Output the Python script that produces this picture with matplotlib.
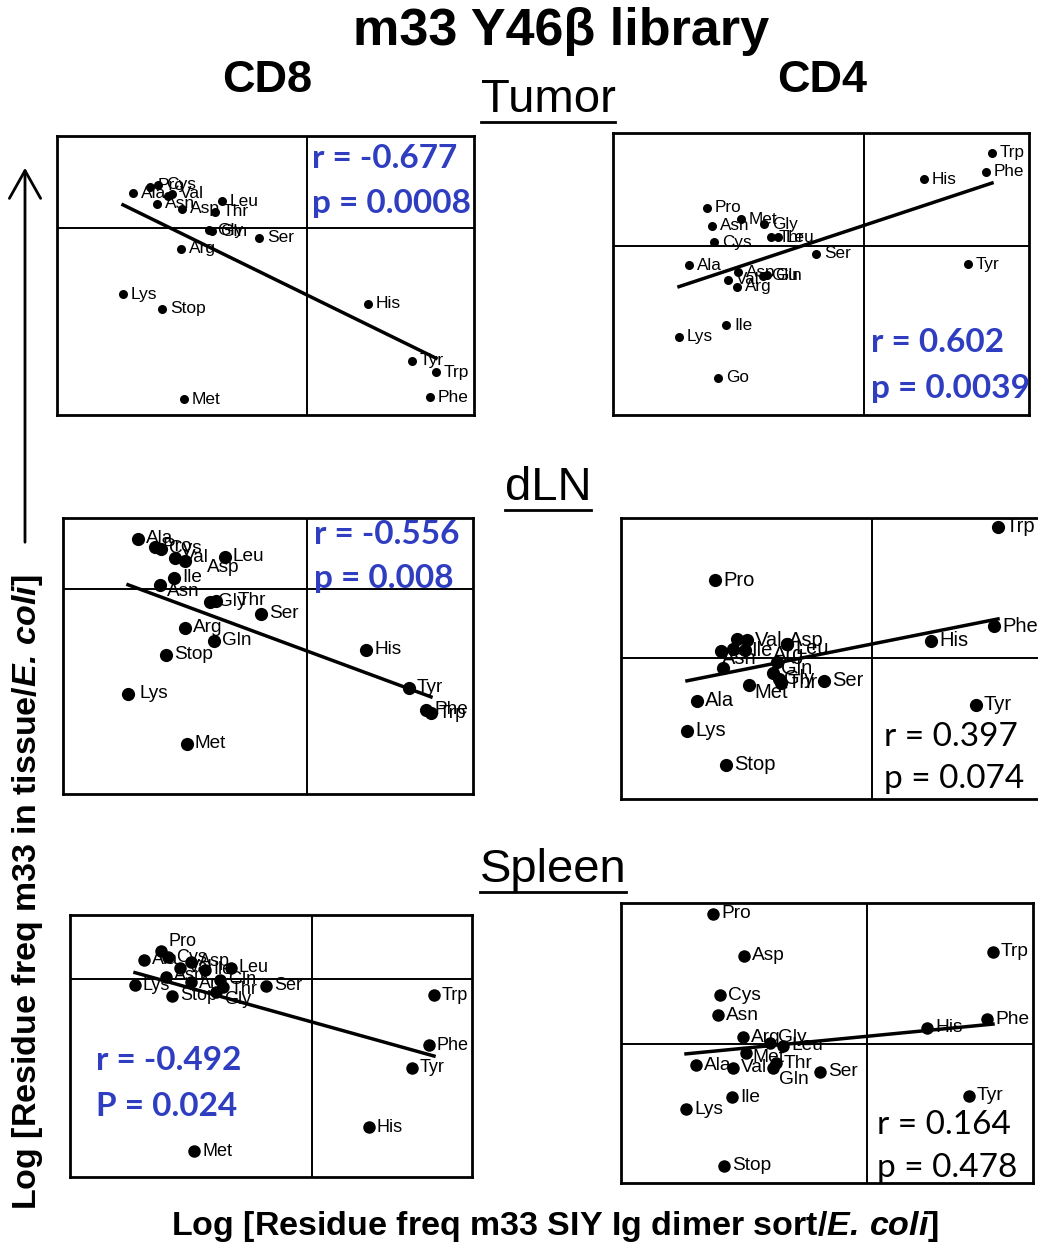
import matplotlib
matplotlib.use("Agg")
import matplotlib.pyplot as plt
import numpy as np

plt.rcParams['font.family'] = ['Liberation Sans', 'DejaVu Sans']
plt.rcParams['mathtext.fontset'] = 'custom'
plt.rcParams['mathtext.bf'] = 'Liberation Sans:bold'
plt.rcParams['mathtext.it'] = 'Liberation Sans:italic'
try:
    plt.rcParams['mathtext.bfit'] = 'Liberation Sans:bold:italic'
except KeyError:
    pass

W, H = 1038, 1247
BLUE = '#2f3ec0'

# ---- data (log ratios) ----
# Tumor, CD8
p1_labels = ['Ala', 'Pro', 'Cys', 'Ile', 'Val', 'Asn', 'Asp', 'Leu', 'Thr', 'Gly', 'Gln',
             'Ser', 'Arg', 'Lys', 'Stop', 'Met', 'His', 'Tyr', 'Trp', 'Phe']
p1_x = [-1.74, -1.57, -1.49, -1.39, -1.35, -1.50, -1.25, -0.85, -0.92, -0.98, -0.95,
        -0.48, -1.26, -1.84, -1.45, -1.23, 0.61, 1.05, 1.29, 1.23]
p1_y = [0.35, 0.41, 0.43, 0.32, 0.34, 0.24, 0.19, 0.27, 0.16, -0.02, -0.03,
        -0.10, -0.21, -0.66, -0.81, -1.71, -0.76, -1.33, -1.44, -1.69]
p1_fit = (-0.490, -0.67)
p1_stats = ['r = -0.677', 'p = 0.0008']

# Tumor, CD4
p2_labels = ['Trp', 'Phe', 'His', 'Pro', 'Met', 'Gly', 'Asn', 'Thr', 'Leu', 'Cys', 'Ser',
             'Ala', 'Asp', 'Val', 'Glu', 'Gln', 'Arg', 'Tyr', 'Ile', 'Lys', 'Go']
p2_x = [1.28, 1.22, 0.60, -1.57, -1.23, -1.00, -1.52, -0.93, -0.86, -1.50, -0.48,
        -1.75, -1.26, -1.36, -1.01, -0.97, -1.27, 1.04, -1.38, -1.85, -1.46]
p2_y = [0.93, 0.74, 0.67, 0.38, 0.27, 0.22, 0.20, 0.09, 0.09, 0.04, -0.08,
        -0.19, -0.26, -0.34, -0.30, -0.29, -0.41, -0.18, -0.79, -0.91, -1.32]
p2_fit = (0.331, 0.206)
p2_stats = ['r = 0.602', 'p = 0.0039']

# dLN, CD8
p3_labels = ['Ala', 'Pro', 'Cys', 'Val', 'Asp', 'Leu', 'Ile', 'Asn', 'Gly', 'Thr', 'Ser',
             'Arg', 'Gln', 'Stop', 'His', 'Lys', 'Tyr', 'Phe', 'Trp', 'Met']
p3_x = [-1.69, -1.52, -1.46, -1.32, -1.22, -0.82, -1.33, -1.47, -0.97, -0.91, -0.46,
        -1.22, -0.93, -1.41, 0.59, -1.79, 1.02, 1.19, 1.24, -1.20]
p3_y = [0.50, 0.42, 0.40, 0.31, 0.28, 0.32, 0.11, 0.04, -0.13, -0.12, -0.25,
        -0.39, -0.52, -0.66, -0.61, -1.05, -0.99, -1.21, -1.24, -1.55]
p3_fit = (-0.370, -0.62)
p3_stats = ['r = -0.556', 'p = 0.008']

# dLN, CD4
p4_labels = ['Trp', 'Pro', 'Phe', 'His', 'Cys', 'Val', 'Asp', 'Leu', 'Glu', 'Ile', 'Asn',
             'Glx', 'Arg', 'Gln', 'Gly', 'Thr', 'Met', 'Ser', 'Ala', 'Lys', 'Stop', 'Tyr']
p4_x = [1.26, -1.57, 1.22, 0.59, -1.35, -1.25, -0.85, -0.85, -1.39, -1.27, -1.51,
        -1.49, -0.95, -0.99, -0.93, -0.91, -1.23, -0.48, -1.75, -1.85, -1.46, 1.04]
p4_y = [1.31, 0.78, 0.32, 0.17, 0.19, 0.18, 0.14, 0.14, 0.09, 0.08, 0.07,
        -0.10, -0.04, -0.15, -0.21, -0.25, -0.27, -0.23, -0.43, -0.73, -1.07, -0.47]
p4_fit = (0.199, 0.14)
p4_stats = ['r = 0.397', 'p = 0.074']

# Spleen, CD8
p5_labels = ['Pro', 'Cys', 'Ala', 'Asp', 'Val', 'Ile', 'Leu', 'Gln', 'Thr', 'Gly', 'Asn',
             'Arg', 'Lys', 'Stop', 'Ser', 'Trp', 'Phe', 'Tyr', 'His', 'Met']
p5_x = [-1.51, -1.44, -1.68, -1.21, -1.32, -1.07, -0.81, -0.92, -0.89, -0.96, -1.46,
        -1.21, -1.77, -1.40, -0.46, 1.22, 1.17, 1.00, 0.57, -1.18]
p5_y = [0.28, 0.22, 0.19, 0.17, 0.11, 0.09, 0.11, -0.01, -0.08, -0.13, 0.02,
        -0.03, -0.06, -0.17, -0.07, -0.16, -0.66, -0.89, -1.48, -1.72]
p5_fit = (-0.279, -0.43)
p5_stats = ['r = -0.492', 'P = 0.024']

# Spleen, CD4
p6_labels = ['Pro', 'Trp', 'Asp', 'Cys', 'Asn', 'Phe', 'His', 'Arg', 'Gly', 'Leu', 'Met',
             'Thr', 'Gln', 'Val', 'Ser', 'Ala', 'Ile', 'Lys', 'Tyr', 'Stop']
p6_x = [-1.54, 1.26, -1.23, -1.47, -1.49, 1.20, 0.60, -1.24, -0.97, -0.84, -1.21,
        -0.91, -0.94, -1.34, -0.47, -1.71, -1.35, -1.81, 1.02, -1.43]
p6_y = [1.30, 0.92, 0.88, 0.49, 0.29, 0.25, 0.16, 0.07, 0.01, -0.02, -0.09,
        -0.19, -0.24, -0.24, -0.28, -0.21, -0.53, -0.65, -0.52, -1.22]
p6_fit = (0.097, 0.077)
p6_stats = ['r = 0.164', 'p = 0.478']

# ---- layout (pixel boxes: left, top, right, bottom; crosshair cx, cy) ----
panels = [
    dict(lab=p1_labels, x=p1_x, y=p1_y, fit=p1_fit, stats=p1_stats,
         box=(57, 136, 474, 415), c=(307, 228), ms=6.5, fs=12.5,
         txt=(312, 159, 204), bold=True,
         nudge={'Ile': None, 'Gln': (8, 0), 'Pro': (8, 2)}),
    dict(lab=p2_labels, x=p2_x, y=p2_y, fit=p2_fit, stats=p2_stats,
         box=(613, 133, 1029, 415), c=(864, 246), ms=6.5, fs=12.3,
         txt=(871, 343, 389), bold=True,
         nudge={'Glu': (8, 0)}),
    dict(lab=p3_labels, x=p3_x, y=p3_y, fit=p3_fit, stats=p3_stats,
         box=(63, 518, 473, 794), c=(307, 589), ms=9.5, fs=13.7,
         txt=(314, 535, 579), bold=True,
         nudge={'Asp': (22, -7), 'Thr': (22, 0), 'Asn': (7, -7), 'Lys': (12, 0)}),
    dict(lab=p4_labels, x=p4_x, y=p4_y, fit=p4_fit, stats=p4_stats,
         box=(621, 518, 1045, 799), c=(872, 658), ms=9.5, fs=14.5,
         txt=(884, 737, 779), bold=False,
         nudge={'Cys': None, 'Glu': None, 'Glx': None, 'Asp': (2, 4), 'Leu': (8, -4),
                'Asn': (1, -8), 'Ile': (6, -1), 'Arg': (-4, 7), 'Gln': (8, 4),
                'Gly': (5, 1), 'Thr': (6, 0), 'Met': (5, -8)}),
    dict(lab=p5_labels, x=p5_x, y=p5_y, fit=p5_fit, stats=p5_stats,
         box=(70, 915, 472, 1177), c=(312, 979), ms=9, fs=13,
         txt=(96, 1061, 1106), bold=True,
         nudge={'Pro': (8, 10), 'Ile': (8, 0), 'Asn': (8, 2), 'Gly': (8, -8),
                'Thr': (8, -2), 'Arg': (8, -2)}),
    dict(lab=p6_labels, x=p6_x, y=p6_y, fit=p6_fit, stats=p6_stats,
         box=(621, 903, 1033, 1183), c=(867, 1044), ms=9, fs=13.8,
         txt=(877, 1125, 1168), bold=False,
         nudge={'Gly': (8, 5), 'Gln': (6, -12), 'Met': (6, -4)}),
]

fig = plt.figure(figsize=(W / 100, H / 100), dpi=100)

for p in panels:
    l, t, r, b = p['box']
    cx, cy = p['c']
    ax = fig.add_axes([l / W, 1 - b / H, (r - l) / W, (b - t) / H])
    ax.set_xlim((l - cx) / 100, (r - cx) / 100)
    ax.set_ylim((cy - b) / 100, (cy - t) / 100)
    ax.set_xticks([])
    ax.set_yticks([])
    for s in ax.spines.values():
        s.set_linewidth(2)
    ax.axhline(0, color='black', lw=1.4, zorder=1)
    ax.axvline(0, color='black', lw=1.4, zorder=1)

    xs = np.array(p['x'])
    ys = np.array(p['y'])
    ax.scatter(xs, ys, s=p['ms'] ** 2, color='black', zorder=3, linewidths=0)
    slope, icpt = p['fit']
    xx = np.array([xs.min(), xs.max()])
    ax.plot(xx, slope * xx + icpt, color='black', lw=2.5, zorder=2)

    for name, xv, yv in zip(p['lab'], xs, ys):
        off = p['nudge'].get(name, (8, 0))
        if off is None:
            continue
        ax.annotate(name, (xv, yv), xytext=off, textcoords='offset pixels',
                    ha='left', va='center', fontsize=p['fs'], zorder=4)

    tx, ty1, ty2 = p['txt']
    for s_txt, ty in zip(p['stats'], (ty1, ty2)):
        fig.text(tx / W, 1 - ty / H, s_txt, family='Lato',
                 weight='bold' if p['bold'] else 'normal',
                 color=BLUE if p['bold'] else 'black',
                 fontsize=24, ha='left', va='center')

# ---- titles ----
fig.text(561 / W, 1 - 31 / H, 'm33 Y46β library', fontsize=37.5, weight='bold',
         ha='center', va='center')
fig.text(267 / W, 1 - 80 / H, 'CD8', fontsize=32.5, weight='bold', ha='center', va='center')
fig.text(822 / W, 1 - 80 / H, 'CD4', fontsize=32.5, weight='bold', ha='center', va='center')
for name, xc, yc in [('Tumor', 548, 100), ('dLN', 548, 488), ('Spleen', 553, 870)]:
    txt = fig.text(xc / W, 1 - yc / H, name, fontsize=34, ha='center', va='center')
    fig.canvas.draw()
    bb = txt.get_window_extent()
    fig.add_artist(plt.Line2D([bb.x0 / W, bb.x1 / W], [(H - yc - 22) / H] * 2,
                              color='black', lw=2))

fig.text(555 / W, 1 - 1227 / H,
         'Log [Residue freq m33 SIY Ig dimer sort/$\\mathbfit{E.\\,coli}$]',
         fontsize=24.5, weight='bold', ha='center', va='center')
fig.text(28 / W, 1 - 892 / H,
         'Log [Residue freq m33 in tissue/$\\mathbfit{E.\\,coli}$]',
         fontsize=24.5, weight='bold', ha='center', va='center', rotation=90)

# arrow on the y side
fig.add_artist(matplotlib.patches.FancyArrowPatch(
    (25 / W, 1 - 545 / H), (25 / W, 1 - 165 / H), transform=fig.transFigure,
    arrowstyle='->,head_length=0.8,head_width=0.45', mutation_scale=25,
    lw=2, color='black'))

fig.savefig('out.png', dpi=100)
